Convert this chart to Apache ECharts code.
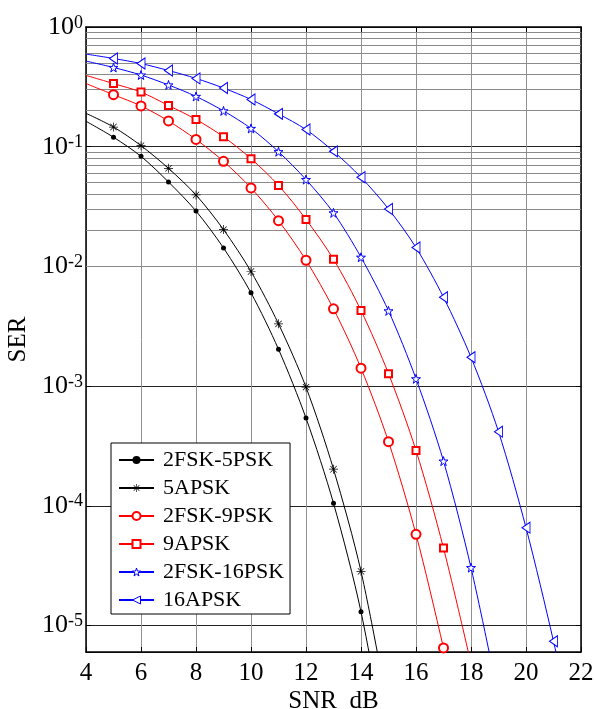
<!DOCTYPE html>
<html>
<head>
<meta charset="utf-8">
<script src="https://cdn.jsdelivr.net/npm/echarts@6/dist/echarts.min.js"></script>
<style>
html,body{margin:0;padding:0;background:#fff;}
#chart{width:595px;height:709px;}
</style>
</head>
<body>
<div id="chart"></div>
<script>
// ---- data (SER vs SNR in dB, points at 1 dB steps starting from 4 dB) ----
var snrDb = [4,5,6,7,8,9,10,11,12,13,14,15,16,17,18,19,20,21,22];
var xTicks = [4,6,8,10,12,14,16,18,20,22];
var seriesNames = ['2FSK-5PSK','5APSK','2FSK-9PSK','9APSK','2FSK-16PSK','16APSK'];
var ser2fsk5psk = [0.163,0.120,0.0830,0.0507,0.0290,0.01426,0.00601,0.00203,5.40e-4,1.05e-4,1.30e-5,7.4e-7];
var ser5apsk = [0.190,0.146,0.102,0.0659,0.0395,0.0203,0.00906,0.00331,9.79e-4,2.02e-4,2.83e-5,1.9e-6];
var ser2fsk9psk = [0.337,0.272,0.219,0.164,0.115,0.0754,0.0452,0.0241,0.01125,0.00442,0.00141,3.43e-4,5.77e-5,6.49e-6,6.3e-7];
var ser9apsk = [0.394,0.337,0.286,0.221,0.169,0.121,0.0794,0.0475,0.0247,0.01146,0.00428,0.00127,2.90e-4,4.43e-5,4.8e-6];
var ser2fsk16psk = [0.519,0.459,0.397,0.328,0.263,0.199,0.142,0.0908,0.0531,0.0280,0.01192,0.00425,0.00115,2.36e-4,3.04e-5,2.5e-6];
var ser16apsk = [0.594,0.546,0.495,0.433,0.372,0.309,0.248,0.188,0.139,0.0914,0.0555,0.0302,0.01436,0.00552,0.00174,4.16e-4,6.56e-5,7.38e-6,6.6e-7];
var yMin = 6e-6, yMax = 1;

var FONT = 'Liberation Serif';
var pentagram = 'path://M0,-10 L2.245,-3.09 L9.51,-3.09 L3.633,1.18 L5.88,8.09 L0,3.82 L-5.88,8.09 L-3.633,1.18 L-9.51,-3.09 L-2.245,-3.09 Z';
var asterisk = 'path://M-0.8,-10 L0.8,-10 L0.8,10 L-0.8,10 Z M-10,-0.8 L10,-0.8 L10,0.8 L-10,0.8 Z M-6.5,-7.6 L7.6,6.5 L6.5,7.6 L-7.6,-6.5 Z M6.5,-7.6 L7.6,-6.5 L-6.5,7.6 L-7.6,6.5 Z';
var leftTriangle = 'path://M-8,0 L8,-11 L8,11 Z';

function toData(vals){
  return vals.map(function(v,i){
    if (i === 0) return {value:[snrDb[i], v], symbol:'none'};
    return [snrDb[i], v];
  });
}

// minor grid values (2..9 x 10^e) within the axis range
var minorVals = [];
for (var e = -6; e <= -1; e++) {
  for (var m = 2; m <= 9; m++) {
    var v = m * Math.pow(10, e);
    if (v >= yMin * 0.999 && v <= yMax) minorVals.push(v);
  }
}

function mkSeries(name, vals, color, symbol, size, hollowPath){
  return {
    name: name, type: 'line', data: toData(vals),
    xAxisIndex: 0, yAxisIndex: 0,
    color: color,
    smooth: 0.3,
    symbol: symbol, symbolSize: size,
    showAllSymbol: true,
    lineStyle: {color: color, width: 1},
    itemStyle: hollowPath ? {color:'#fff', borderColor: color, borderWidth: 1} : {color: color, borderWidth: 1},
    emphasis: {disabled: true},
    z: 5, clip: true, animation: false
  };
}

var series = [
  {
    name: 'minorGrid', type: 'line', data: [], xAxisIndex: 0, yAxisIndex: 0, silent: true, z: 1,
    markLine: {
      silent: true, symbol: ['none','none'], label: {show:false}, animation: false,
      lineStyle: {color:'#8a8a8a', type:'solid', width:1},
      emphasis: {disabled: true},
      data: minorVals.map(function(v){ return {yAxis: v}; })
    }
  },
  mkSeries(seriesNames[0], ser2fsk5psk, '#000000', 'circle', 5, false),
  mkSeries(seriesNames[1], ser5apsk, '#000000', asterisk, 9, false),
  mkSeries(seriesNames[2], ser2fsk9psk, '#ff0000', 'emptyCircle', 9, false),
  mkSeries(seriesNames[3], ser9apsk, '#ff0000', 'emptyRect', 7, false),
  mkSeries(seriesNames[4], ser2fsk16psk, '#0000ff', pentagram, 9, true),
  mkSeries(seriesNames[5], ser16apsk, '#0000ff', leftTriangle, [8,11], true)
];

function yLabel(v){
  var l = Math.log10(v);
  var e = Math.round(l);
  if (Math.abs(l - e) > 1e-6) return '';
  return '{b|10}{s|' + (e === 0 ? '0' : ('-' + Math.abs(e))) + '}';
}

var hollowPathLegend = {'2FSK-16PSK': '#0000ff', '16APSK': '#0000ff'};
var legendData = seriesNames.map(function(n){
  if (hollowPathLegend[n]) return {name: n, itemStyle: {color:'#fff', borderColor: hollowPathLegend[n], borderWidth:1}};
  return {name: n};
});

var chart = echarts.init(document.getElementById('chart'), null, {renderer:'canvas'});
chart.setOption({
  backgroundColor: '#fff',
  animation: false,
  grid: {left: 86, top: 27, right: 14, bottom: 57, containLabel: false, outerBoundsMode: 'none'},
  legend: {
    data: legendData,
    orient: 'vertical',
    left: 111, top: 443,
    padding: [6, 6, 3, 7],
    itemWidth: 35, itemHeight: 10, itemGap: 6,
    backgroundColor: '#fff',
    borderColor: '#000', borderWidth: 1,
    textStyle: {fontFamily: FONT, fontSize: 22, color: '#000', lineHeight: 22, padding: [0,0,0,4]},
    selectedMode: false
  },
  xAxis: [
    {
      type: 'value', min: 4, max: 22, interval: 2, position: 'bottom',
      name: 'SNR  dB', nameLocation: 'middle', nameGap: 37, nameMoveOverlap: false,
      nameTextStyle: {fontFamily: FONT, fontSize: 25, color: '#000'},
      axisLine: {show: true, onZero: false, lineStyle: {color:'#000', width: 1.5}},
      axisTick: {show: true, inside: true, length: 5, lineStyle: {color:'#000'}},
      axisLabel: {fontFamily: FONT, fontSize: 25, color: '#000', margin: 9,
        formatter: function(v){ return xTicks.indexOf(v) >= 0 ? String(v) : ''; }},
      splitLine: {show: true, lineStyle: {color:'#929292', width: 1}}
    },
    {
      type: 'value', min: 4, max: 22, interval: 2, position: 'top',
      axisLine: {show: true, onZero: false, lineStyle: {color:'#000', width: 1.5}},
      axisTick: {show: true, inside: true, length: 5, lineStyle: {color:'#000'}},
      axisLabel: {show: false}, splitLine: {show: false}
    }
  ],
  yAxis: [
    {
      type: 'log', logBase: 10, min: yMin, max: yMax, position: 'left',
      name: 'SER', nameLocation: 'middle', nameGap: 55, nameRotate: 90,
      nameTextStyle: {fontFamily: FONT, fontSize: 25, color: '#000'},
      axisLine: {show: true, onZero: false, lineStyle: {color:'#000', width: 1.5}},
      axisTick: {show: true, inside: true, length: 5, lineStyle: {color:'#000'}},
      axisLabel: {
        margin: 3, formatter: yLabel,
        rich: {
          b: {fontFamily: FONT, fontSize: 26, color: '#000', lineHeight: 26},
          s: {fontFamily: FONT, fontSize: 18, color: '#000', verticalAlign: 'top'}
        }
      },
      splitLine: {show: true, lineStyle: {color:'#222', width: 1}}
    },
    {
      type: 'log', logBase: 10, min: yMin, max: yMax, position: 'right',
      axisLine: {show: true, onZero: false, lineStyle: {color:'#000', width: 1.5}},
      axisTick: {show: true, inside: true, length: 5, lineStyle: {color:'#000'}},
      axisLabel: {show: false}, splitLine: {show: false}
    }
  ],
  series: series
});
</script>
</body>
</html>
